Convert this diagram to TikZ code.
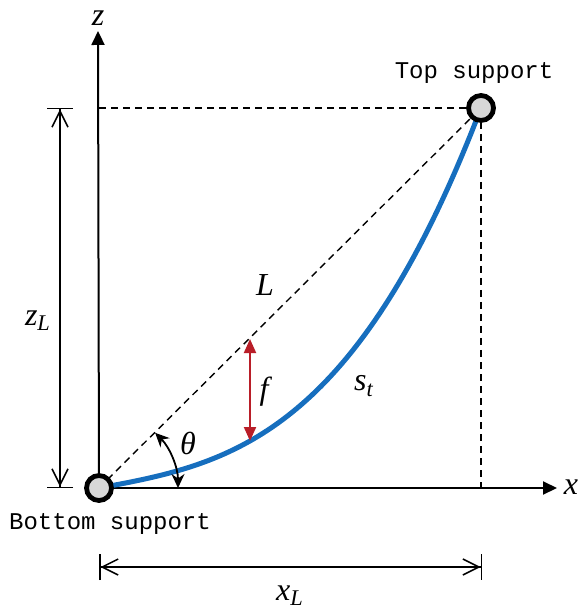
\documentclass[tikz,border=0pt]{standalone}
\usepackage{fontspec}
\setmainfont{Liberation Serif}
\setmonofont{Liberation Mono}
\usetikzlibrary{arrows.meta}
\definecolor{cableblue}{RGB}{22,110,190}
\definecolor{sagred}{RGB}{185,30,40}
\definecolor{supportgray}{RGB}{215,215,215}
\tikzset{
  support/.style={circle, draw, line width=2.4pt, fill=supportgray, minimum size=12.5pt, inner sep=0pt},
  axis/.style={line width=1pt, -{Triangle[length=7pt,width=6.5pt]}},
  guide/.style={line width=0.7pt, dash pattern=on 3.5pt off 2.5pt},
  dimline/.style={line width=0.75pt, {Bar[width=13pt]Straight Barb[length=8pt,width=8pt]}-{Straight Barb[length=8pt,width=8pt]Bar[width=13pt]}},
  cable/.style={line width=2.5pt, cableblue},
  sag/.style={line width=1pt, sagred, {Triangle[length=7pt,width=6pt]}-{Triangle[length=7pt,width=6pt]}},
  sym/.style={font=\fontsize{16}{18}\selectfont\itshape, inner sep=1pt},
  tag/.style={font=\fontsize{12}{14}\selectfont\ttfamily}
}
\begin{document}
\begin{tikzpicture}[x=0.5pt, y=-0.5pt]
    \useasboundingbox (0,0) rectangle (579,613);

    \coordinate (O) at (99,488);
    \coordinate (T) at (481,108);
    \coordinate (zend) at (98,31);
    \coordinate (xend) at (557,488);

    \draw[axis] (O) -- (zend);
    \node[sym] (zlab) at (98,18) {z};
    \draw[axis] (O) -- (xend);
    \node[sym] (xlab) at (571,487) {x};

    \draw[guide] (O |- T) -- (T) -- (T |- O);
    \draw[guide] (O) -- (T);
    \node[sym] (Llab) at (265,285) {L};

    \draw[cable] plot[domain=0:1, samples=80] ({99+382*\x}, {488-380*(0.186*\x+0.814*\x*\x*\x)});
    \node[sym] (stlab) at (364,386) {s\textsubscript{t}};

    \coordinate (fL) at (250,339);
    \coordinate (fs) at (250,441);
    \draw[sag] (fs) -- (fL);
    \node[sym] (flab) at (264,392) {f};

    \draw[line width=0.9pt, {Stealth[length=7pt,width=6.5pt]}-{Stealth[length=7pt,width=6.5pt]}] (178,488) arc[start angle=0, end angle=-45, radius=78];
    \node[sym] (thlab) at (188,443) {θ};

    \node[support] (bottom) at (O) {};
    \node[support] (top) at (T) {};
    \node[tag] (toplab) at (474,73) {Top support};
    \node[tag] (botlab) at (110,524) {Bottom support};

    \coordinate (zLtop) at (60,108);
    \coordinate (zLbot) at (60,488);
    \draw[dimline] (zLtop) -- (zLbot);
    \node[sym] (zLlab) at (38,321) {z\textsubscript{L}};

    \coordinate (xLleft) at (99,567);
    \coordinate (xLright) at (482,567);
    \draw[dimline] (xLleft) -- (xLright);
    \node[sym] (xLlab) at (290,596) {x\textsubscript{L}};
\end{tikzpicture}
\end{document}
